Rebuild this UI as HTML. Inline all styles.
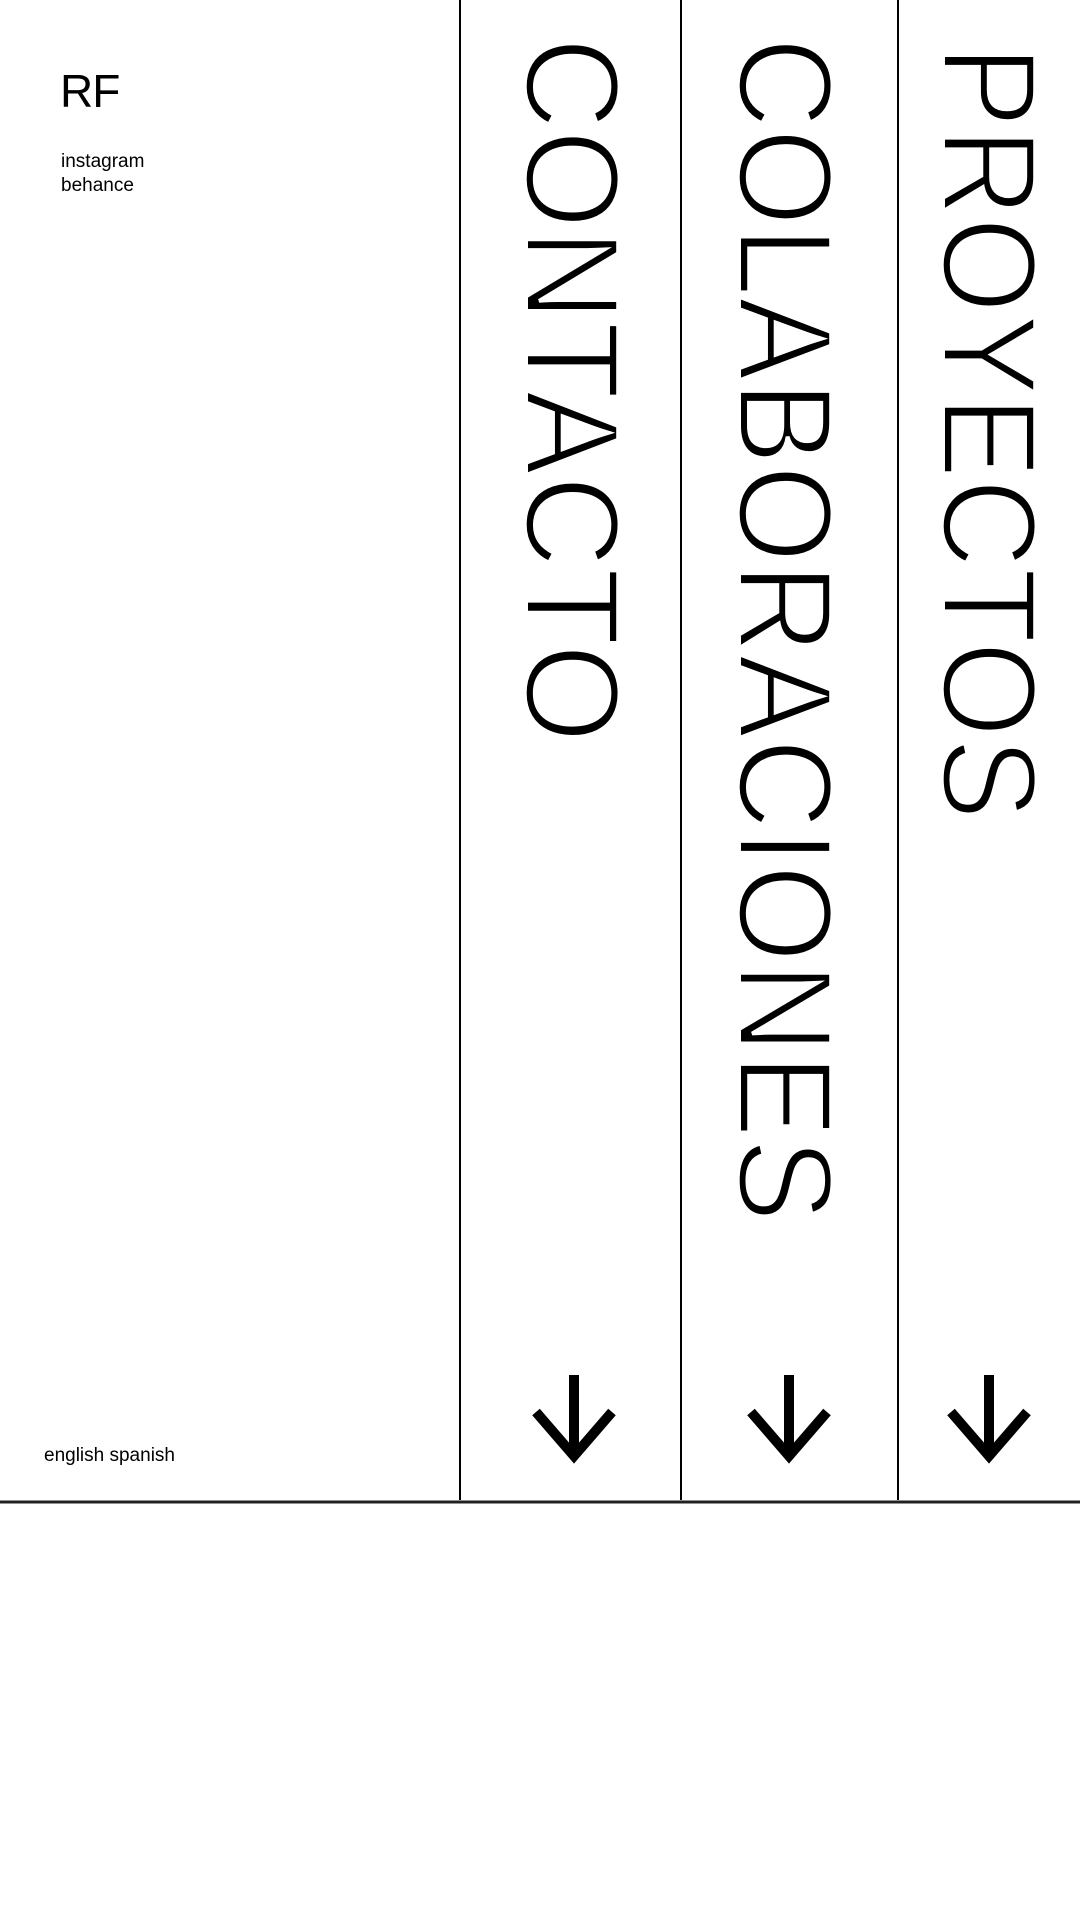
<!DOCTYPE html>
<html><head><meta charset="utf-8"><style>
html,body{margin:0;padding:0;background:#fff;}
body{width:1080px;height:1920px;position:relative;overflow:hidden;font-family:"Liberation Sans",sans-serif;}
.t{position:absolute;color:#000;}
</style></head><body>
<div class="t" style="left:60px;top:64px;font-size:46px;line-height:54px;letter-spacing:-1px;">RF</div>
<div class="t" style="left:61px;top:150px;font-size:19px;line-height:24px;">instagram</div>
<div class="t" style="left:61px;top:174px;font-size:19px;line-height:24px;">behance</div>
<div class="t" style="left:44px;top:1444px;font-size:19px;line-height:24px;">english spanish</div>
<svg width="1080" height="1920" style="position:absolute;left:0;top:0">
<line x1="460" y1="0" x2="460" y2="1500" stroke="#000" stroke-width="2"/>
<line x1="681" y1="0" x2="681" y2="1500" stroke="#000" stroke-width="2"/>
<line x1="898" y1="0" x2="898" y2="1500" stroke="#000" stroke-width="2"/>
<line x1="0" y1="1502" x2="1080" y2="1502" stroke="#222" stroke-width="3"/>
<g font-family="Liberation Sans, sans-serif" font-size="134" fill="#000" stroke="#fff" stroke-width="4">
<text transform="translate(526,37) rotate(90)" textLength="706" lengthAdjust="spacingAndGlyphs">CONTACTO</text>
<text transform="translate(739,37) rotate(90)" textLength="1185" lengthAdjust="spacingAndGlyphs">COLABORACIONES</text>
<text transform="translate(943,45) rotate(90)" textLength="775" lengthAdjust="spacingAndGlyphs">PROYECTOS</text>
</g>
<g stroke="#000" stroke-width="10" fill="none">
<path d="M574 1375 V1456 M536 1412 L574 1456 L612 1412"/>
<path d="M789 1375 V1456 M751 1412 L789 1456 L827 1412"/>
<path d="M989 1375 V1456 M951 1412 L989 1456 L1027 1412"/>
</g>
</svg>
</body></html>
